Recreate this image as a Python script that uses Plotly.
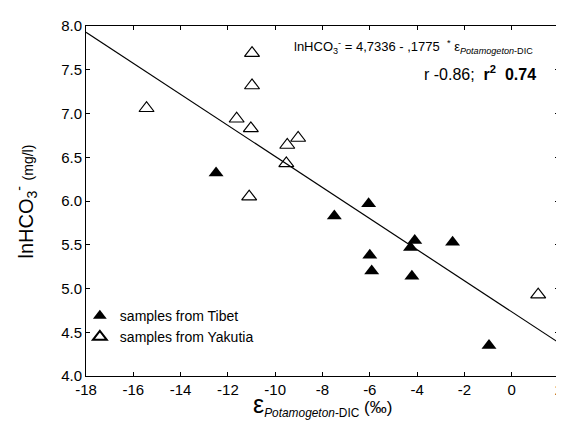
import plotly.graph_objects as go

# Data
tibet_x = [-12.5, -7.5, -6.05, -4.1, -4.28, -2.5, -6.0, -5.92, -4.22, -0.96]
tibet_y = [6.32, 5.83, 5.97, 5.55, 5.47, 5.53, 5.38, 5.20, 5.14, 4.35]
yak_x = [-15.44, -10.98, -10.98, -11.63, -11.03, -9.49, -9.03, -9.53, -11.1, 1.12]
yak_y = [7.06, 7.69, 7.32, 6.94, 6.83, 6.64, 6.72, 6.43, 6.05, 4.93]
intercept = 4.7336
slope = -0.1775
line_x = [-18, 2]
x_ticks = [-18, -16, -14, -12, -10, -8, -6, -4, -2, 0, 2]
y_ticks = [4.0, 4.5, 5.0, 5.5, 6.0, 6.5, 7.0, 7.5, 8.0]

FONT = "Liberation Sans, Arial, sans-serif"

fig = go.Figure()
fig.add_trace(go.Scatter(x=line_x, y=[intercept + slope * v for v in line_x],
                         mode="lines", line=dict(color="black", width=1.2),
                         showlegend=False, hoverinfo="skip"))
fig.add_trace(go.Scatter(x=tibet_x, y=tibet_y, mode="markers", name="samples from Tibet",
                         marker=dict(symbol="triangle-up", size=13, color="black")))
fig.add_trace(go.Scatter(x=yak_x, y=yak_y, mode="markers", name="samples from Yakutia",
                         marker=dict(symbol="triangle-up-open", size=13, color="black",
                                     line=dict(width=1.2, color="black"))))

axis_common = dict(showgrid=False, zeroline=False, showline=True, linecolor="black",
                   linewidth=1, mirror="ticks", ticks="inside", ticklen=4,
                   tickcolor="black", tickfont=dict(family=FONT, size=15, color="black"))

fig.update_xaxes(range=[-18, 2], tickvals=x_ticks,
                 ticktext=[str(v) for v in x_ticks], **axis_common)
fig.update_yaxes(range=[4.0, 8.0], tickvals=y_ticks,
                 ticktext=[f"{v:.1f}" for v in y_ticks], **axis_common)

fig.update_layout(
    width=564, height=421,
    margin=dict(l=78, r=9, t=17, b=53),
    plot_bgcolor="white", paper_bgcolor="white",
    font=dict(family=FONT, color="black"),
    legend=dict(x=-0.013, y=0.217, xanchor="left", yanchor="top",
                bgcolor="rgba(0,0,0,0)", font=dict(family=FONT, size=14),
                itemsizing="constant", tracegroupgap=0),
    annotations=[
        dict(xref="paper", yref="paper", x=1 - 0.05, y=0.94, xanchor="right", yanchor="middle",
             showarrow=False, font=dict(family=FONT, size=13),
             text="lnHCO<sub>3</sub><sup>-</sup> = 4,7336 - ,1775  <sup>*</sup> ε<sub><i>Potamogeton</i>-DIC</sub>"),
        dict(xref="paper", yref="paper", x=0.955, y=0.865, xanchor="right", yanchor="middle",
             showarrow=False, font=dict(family=FONT, size=16),
             text="r -0.86;  <b>r<sup>2</sup>  0.74</b>"),
        dict(xref="paper", yref="paper", x=0.5, y=-0.132, xanchor="center", yanchor="bottom",
             showarrow=False, font=dict(family=FONT, size=17),
             text="<span style='font-size:25px'>ε</span><sub><i>Potamogeton</i>-DIC</sub> (‰)"),
        dict(xref="paper", yref="paper", x=-0.128, y=0.5, xanchor="center", yanchor="middle",
             showarrow=False, textangle=-90, font=dict(family=FONT, size=20),
             text="lnHCO<sub>3</sub><sup>-</sup> <span style='font-size:14px'>(mg/l)</span>"),
    ],
)

fig.write_html("out.html")
